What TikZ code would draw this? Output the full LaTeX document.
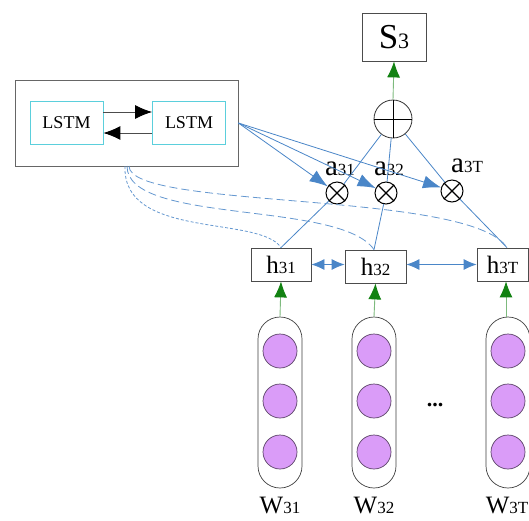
\documentclass[tikz,border=0pt]{standalone}
\usepackage{fontspec}
\setmainfont{Liberation Serif}
\usetikzlibrary{arrows.meta,calc}
\definecolor{lblue}{HTML}{4A86C8}
\definecolor{dblue}{HTML}{2F7BD0}
\definecolor{lgreen}{HTML}{128212}
\definecolor{lstmc}{HTML}{5BCFDC}
\definecolor{purp}{HTML}{DA9CF8}
\definecolor{purpb}{HTML}{5C4468}
\newcommand{\bigsm}[4]{{\fontsize{#1}{#1}\selectfont #2}{\fontsize{#3}{#3}\selectfont #4}}
\begin{document}
\begin{tikzpicture}[x=1pt,y=-1pt,
  boxg/.style={draw=black!70,line width=0.8pt,inner sep=0pt,fill=white},
  lstmbox/.style={draw=lstmc,line width=0.8pt,minimum width=73pt,minimum height=43pt,inner sep=0pt,font=\fontsize{18}{18}\selectfont},
  otim/.style={circle,draw=black,line width=1pt,minimum size=22pt,inner sep=0pt,fill=white},
  opl/.style={circle,draw=black!80,line width=0.8pt,minimum size=38pt,inner sep=0pt},
  capsule/.style={draw=black!75,line width=0.7pt,rounded corners=22pt,minimum width=44pt,minimum height=171pt,inner sep=0pt},
  ball/.style={circle,draw=purpb,line width=0.7pt,fill=purp,minimum size=34pt,inner sep=0pt},
  bl/.style={draw=lblue,line width=0.8pt},
  blarrow/.style={bl,-{Latex[length=18pt,width=13pt]},color=lblue},
  grarrow/.style={draw=lgreen!55,line width=0.9pt,-{Latex[length=16pt,width=13pt,fill=lgreen,color=lgreen]}},
  dashA/.style={draw=lblue!85,line width=0.8pt,dash pattern=on 3pt off 2pt},
  dashB/.style={draw=lblue!85,line width=0.8pt,dash pattern=on 8pt off 4pt},
  lbl/.style={inner sep=0pt,anchor=base}
]
\useasboundingbox[fill=white] (0,0) rectangle (529,520);

% LSTM block
\node[draw=black!60,line width=0.8pt,minimum width=223pt,minimum height=86pt,inner sep=0pt] (outer) at (126.5,123) {};
\node[lstmbox] (l1) at (66.5,122.5) {LSTM};
\node[lstmbox] (l2) at (189,122.5) {LSTM};
\draw[black!70,line width=0.9pt,-{Latex[length=17pt,width=14pt,fill=black,color=black]}] ($(l1.east)+(0,-10.5)$) -- ($(l2.west)+(0,-10.5)$);
\draw[black!70,line width=0.9pt,-{Latex[length=17pt,width=14pt,fill=black,color=black]}] ($(l2.west)+(0,10.5)$) -- ($(l1.east)+(0,10.5)$);

% S3 and oplus
\node[boxg,minimum width=64pt,minimum height=48pt] (s3) at (394,37) {};
\node[lbl] (s3t) at (394,48) {\bigsm{35}{S}{22}{3}};
\node[opl] (opl) at (393,119) {};
\draw[black,line width=1pt] (opl.north) -- (opl.south) (opl.west) -- (opl.east);
\draw[grarrow] (opl.north) -- (s3.south);

% otimes
\node[otim] (a1) at (337,193) {};
\node[otim] (a2) at (386,193) {};
\node[otim] (a3) at (452,191) {};
\foreach \n in {a1,a2,a3}{
  \draw[black,line width=1.1pt] (\n.north east) -- (\n.south west) (\n.north west) -- (\n.south east);
}
\node[lbl] (la1) at (340,175) {\bigsm{29}{a}{17}{31}};
\node[lbl] (la2) at (389,175) {\bigsm{29}{a}{17}{32}};
\node[lbl] (la3) at (467,172) {\bigsm{29}{a}{17}{3T}};

% h boxes
\node[boxg,minimum width=60pt,minimum height=33pt] (h1) at (281,264.5) {};
\node[boxg,minimum width=61pt,minimum height=33pt] (h2) at (375.5,266.5) {};
\node[boxg,minimum width=51pt,minimum height=33pt] (h3) at (502.5,264.5) {};
\node[lbl] (lh1) at (281,273) {\bigsm{25}{h}{17}{31}};
\node[lbl] (lh2) at (375.5,275) {\bigsm{25}{h}{17}{32}};
\node[lbl] (lh3) at (502.5,273) {\bigsm{25}{h}{17}{3T}};

% attention lines
\draw[bl] (h1.north) -- (a1);
\draw[bl] (a1) -- (opl);
\draw[bl] ($(h2.north)+(-1.5,0)$) -- (a2);
\draw[bl] (a2) -- (opl);
\draw[bl] ($(h3.north)+(4.5,0)$) -- (a3);
\draw[bl] (a3) -- (opl);

% arrows from LSTM block
\draw[blarrow] (outer.east) -- (a1);
\draw[blarrow] (outer.east) -- (a2);
\draw[blarrow] (outer.east) -- (a3);

% bidirectional h arrows
\draw[bl,{Latex[length=13pt,width=11pt]}-{Latex[length=13pt,width=11pt]},color=lblue] (h1.east) -- (h1.east -| h2.west);
\draw[bl,{Latex[length=13pt,width=11pt]}-{Latex[length=13pt,width=11pt]},color=lblue] (h1.east -| h2.east) -- (h1.east -| h3.west);

% dashed curves from LSTM block
\coordinate (d1) at (125,166);
\coordinate (d2) at (127,166);
\coordinate (d3) at (129,166);
\draw[dashA] (d1) .. controls (122,240) and (260,215) .. (h1.north);
\draw[dashB] (d2) .. controls (127,225) and (340,200) .. ($(h2.north)+(-1.5,0)$);
\draw[dashB] (d3) .. controls (129,210) and (470,190) .. ($(h3.north)+(4.5,0)$);

% word columns
\foreach \i/\x in {1/280,2/374,3/508}{
  \node[capsule] (c\i) at (\x,402.5) {};
  \node[ball] (b\i a) at (\x,351) {};
  \node[ball] (b\i b) at (\x,401) {};
  \node[ball] (b\i c) at (\x,452) {};
}
\draw[grarrow] (c1.north) -- (h1.south);
\draw[grarrow] (c2.north) -- (h2.south);
\draw[grarrow] ($(c3.north)+(-2,0)$) -- ($(h3.south)+(3.5,0)$);

\node[lbl] (w1) at (280,513) {\bigsm{25}{W}{17}{31}};
\node[lbl] (w2) at (374,513) {\bigsm{25}{W}{17}{32}};
\node[lbl] (w3) at (507,513) {\bigsm{25}{W}{17}{3T}};
\node[inner sep=0pt,font=\fontsize{22}{22}\selectfont\bfseries] (dots) at (435,405) {...};
\end{tikzpicture}
\end{document}
